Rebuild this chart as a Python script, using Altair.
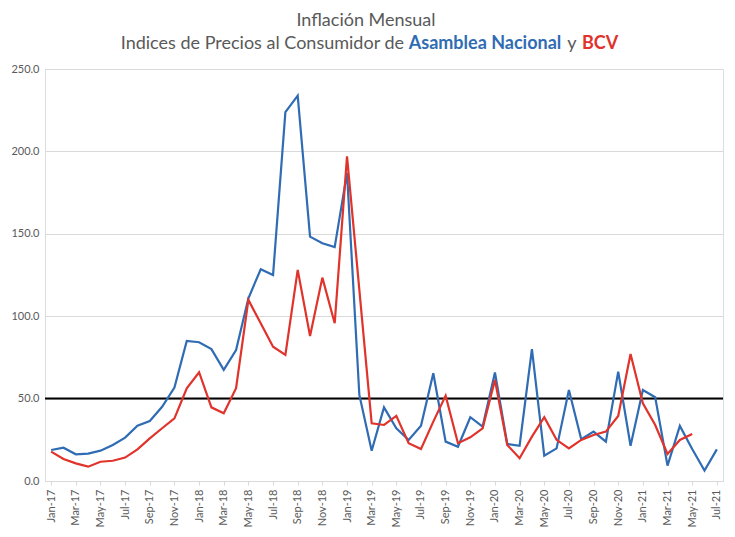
import altair as alt
import pandas as pd

months = ["Jan-17", "Feb-17", "Mar-17", "Apr-17", "May-17", "Jun-17", "Jul-17", "Aug-17", "Sep-17", "Oct-17", "Nov-17", "Dec-17",
          "Jan-18", "Feb-18", "Mar-18", "Apr-18", "May-18", "Jun-18", "Jul-18", "Aug-18", "Sep-18", "Oct-18", "Nov-18", "Dec-18",
          "Jan-19", "Feb-19", "Mar-19", "Apr-19", "May-19", "Jun-19", "Jul-19", "Aug-19", "Sep-19", "Oct-19", "Nov-19", "Dec-19",
          "Jan-20", "Feb-20", "Mar-20", "Apr-20", "May-20", "Jun-20", "Jul-20", "Aug-20", "Sep-20", "Oct-20", "Nov-20", "Dec-20",
          "Jan-21", "Feb-21", "Mar-21", "Apr-21", "May-21", "Jun-21", "Jul-21"]

asamblea = [18.8, 20.2, 16.2, 16.6, 18.4, 21.9, 26.3, 33.6, 36.4, 45.0, 56.7, 85.0,
            84.2, 80.0, 67.4, 79.5, 110.9, 128.5, 125.0, 223.8, 233.8, 148.3, 144.3, 141.9,
            187.0, 52.2, 18.4, 44.7, 32.0, 24.9, 33.6, 65.4, 23.9, 20.8, 38.7, 33.0,
            65.8, 22.5, 21.4, 80.0, 15.4, 19.8, 55.2, 25.3, 30.0, 23.9, 66.4, 21.4,
            55.2, 50.8, 9.3, 33.4, 19.4, 6.3, 19.2]

bcv = [17.8, 13.4, 10.7, 8.7, 11.7, 12.3, 14.2, 19.2, 25.9, 32.0, 38.0, 56.3,
       66.0, 44.7, 41.1, 56.3, 109.9, 95.7, 81.5, 76.5, 128.1, 88.0, 123.4, 95.7,
       197.0, 116.0, 35.0, 34.0, 39.5, 22.9, 19.4, 36.0, 51.8, 22.9, 26.5, 32.0,
       61.3, 21.9, 13.8, 26.9, 38.7, 25.0, 19.8, 24.9, 27.9, 30.0, 39.5, 77.1,
       47.2, 34.0, 16.4, 24.9, 28.5, None, None]

y_ticks = [0, 50, 100, 150, 200, 250]
threshold = [50]

BLUE = "#2f6cb3"
RED = "#e0332b"
FONT = "Lato"
GRAY = "#595959"

df_an = pd.DataFrame({"month": months, "value": asamblea})
bcv_pairs = [(m, v) for m, v in zip(months, bcv) if v is not None]
df_bcv = pd.DataFrame({"month": [p[0] for p in bcv_pairs], "value": [p[1] for p in bcv_pairs]})

x_enc = alt.X("month:O", sort=months,
              scale=alt.Scale(type="point", padding=0.5),
              axis=alt.Axis(values=months[::2], labelAngle=270, title=None,
                            labelColor=GRAY, labelFontSize=11, labelFont=FONT,
                            domainColor="#d9d9d9", tickColor="#d9d9d9", tickSize=4,
                            labelPadding=4, grid=False))
y_enc = alt.Y("value:Q", scale=alt.Scale(domain=[0, 250], nice=False),
              axis=alt.Axis(values=y_ticks, format=".1f", title=None,
                            labelColor=GRAY, labelFontSize=11, labelFont=FONT,
                            domain=False, ticks=False, labelPadding=6,
                            gridColor="#d9d9d9", gridWidth=1))

line_an = alt.Chart(df_an).mark_line(color=BLUE, strokeWidth=2.2).encode(x=x_enc, y=y_enc)
line_bcv = alt.Chart(df_bcv).mark_line(color=RED, strokeWidth=2.2).encode(x=x_enc, y=y_enc)

rule = alt.Chart(pd.DataFrame({"y": threshold})).mark_rule(color="black", strokeWidth=2).encode(y="y:Q")

def txt(t, x, y, color, align, bold=False):
    return alt.Chart(pd.DataFrame({"t": [t]})).mark_text(
        align=align, baseline="middle", font=FONT, fontSize=18,
        fontWeight="bold" if bold else "normal", color=color
    ).encode(text="t:N", x=alt.value(x), y=alt.value(y))

titles = [
    txt("Inflación Mensual", 321, -48, GRAY, "center"),
    txt("Indices de Precios al Consumidor de", 359, -25, GRAY, "right"),
    txt("Asamblea Nacional", 440, -25, BLUE, "center", bold=True),
    txt("y", 527, -25, GRAY, "center"),
    txt("BCV", 555, -25, RED, "center", bold=True),
]

chart = alt.layer(rule, line_an, line_bcv, *titles).properties(
    width=678, height=412,
    autosize=alt.AutoSizeParams(type="none"),
    padding={"left": 37, "top": 61, "right": 4, "bottom": 48},
).configure_view(stroke=None).configure(background="white")

chart.save("out.html", embed_options={"renderer": "svg", "actions": False})
